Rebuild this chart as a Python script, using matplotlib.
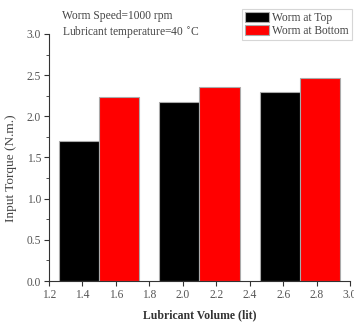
import matplotlib
matplotlib.use("Agg")
import matplotlib.pyplot as plt
from matplotlib.ticker import MultipleLocator, FormatStrFormatter
import numpy as np

volumes = [1.5, 2.1, 2.7]
worm_top = [1.70, 2.17, 2.29]
worm_bottom = [2.24, 2.36, 2.47]
series_labels = ["Worm at Top", "Worm at Bottom"]

plt.rcParams['font.family'] = ['Liberation Serif', 'DejaVu Serif']

fig = plt.figure(figsize=(3.54, 3.23), dpi=100)
ax = fig.add_axes([0.138, 0.130, 0.851, 0.765])

w = 0.24
x = np.array(volumes)
ax.bar(x - w/2, worm_top, width=w, color='black', edgecolor='#aaaaaa', linewidth=0.8, label=series_labels[0])
ax.bar(x + w/2, worm_bottom, width=w, color='#ff0000', edgecolor='#aaaaaa', linewidth=0.8, label=series_labels[1])

ax.set_xlim(1.2, 3.0)
ax.set_ylim(0, 3.0)
ax.xaxis.set_major_locator(MultipleLocator(0.2))
ax.yaxis.set_major_locator(MultipleLocator(0.5))
ax.yaxis.set_minor_locator(MultipleLocator(0.25))
ax.xaxis.set_major_formatter(FormatStrFormatter('%.1f'))
ax.yaxis.set_major_formatter(FormatStrFormatter('%.1f'))
for s in ['top', 'right']:
    ax.spines[s].set_visible(False)
for s in ['left', 'bottom']:
    ax.spines[s].set_linewidth(0.8)
    ax.spines[s].set_color('#333333')
ax.tick_params(axis='both', which='major', direction='out', length=3.5, width=0.8, labelsize=8.3, colors='#333333', labelcolor='#555555', pad=2)
ax.tick_params(axis='both', which='minor', direction='out', length=2, width=0.6, colors='#333333')

ax.set_xlabel("Lubricant Volume (lit)", fontsize=8.5, fontweight='bold', labelpad=6, color='#333333')
ax.set_ylabel("Input Torque (N.m.)", fontsize=9.5, color='#444444')
ax.yaxis.set_label_coords(-0.105, 0.455)

fig.text(62/354, 1 - 16/323, "Worm Speed=1000 rpm", fontsize=8.3, color='#444444', va='center')
fig.text(62/354, 1 - 33/323, "Lubricant temperature=40 $^{\\circ}$C", fontsize=8.3, color='#444444', va='center')

leg = ax.legend(loc='upper right', bbox_to_anchor=(352/354, 1 - 9/323), bbox_transform=fig.transFigure,
                fontsize=8.3, frameon=True, fancybox=False, edgecolor='#cccccc',
                handlelength=2.1, handleheight=1.0, handletextpad=0.3, borderpad=0.25, labelspacing=0.1,
                borderaxespad=0)
leg.get_frame().set_linewidth(0.8)
for t in leg.get_texts():
    t.set_color('#444444')

fig.savefig("out.png", dpi=100)
